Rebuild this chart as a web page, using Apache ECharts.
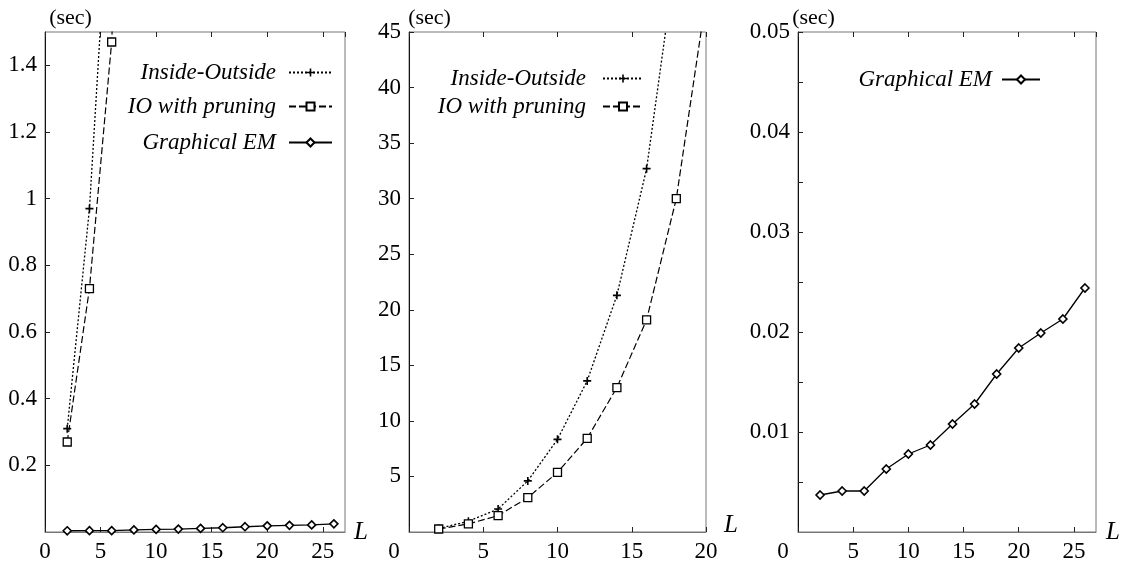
<!DOCTYPE html>
<html>
<head>
<meta charset="utf-8">
<script src="https://cdn.jsdelivr.net/npm/echarts@6/dist/echarts.min.js"></script>
<style>
html,body{margin:0;padding:0;background:#fff;}
#chart{width:1123px;height:565px;}
</style>
</head>
<body>
<div id="chart"></div>
<script>
// ---- data ----
const ioL = [2, 4, 6, 8, 10, 12, 14, 16, 18];
const ioTimes = [0.31, 0.97, 2.07, 4.6, 8.34, 13.6, 21.3, 32.7, 52];
const pruneL = [2, 4, 6, 8, 10, 12, 14, 16, 18, 20];
const pruneTimes = [0.27, 0.73, 1.47, 3.09, 5.37, 8.43, 13.0, 19.1, 30.0, 48];
const gemL = [2, 4, 6, 8, 10, 12, 14, 16, 18, 20, 22, 24, 26];
const gemTimes = [0.0037, 0.0041, 0.0041, 0.0063, 0.0078, 0.0087, 0.0108, 0.0128, 0.0158, 0.0184, 0.0199, 0.0213, 0.0244];
const seriesNames = ['Inside-Outside', 'IO with pruning', 'Graphical EM'];
const yUnit = '(sec)';
const xName = 'L';

const pairs = (xs, ys) => xs.map((x, i) => [x, ys[i]]);

const FONT = "'Liberation Serif', 'Times New Roman', serif";
const plusPath = 'path://M4,0h2v4h4v2h-4v4h-2v-4h-4v-2h4z';

const grids = [
  {left: 45, top: 32, width: 300, height: 500},
  {left: 409, top: 32, width: 297, height: 500},
  {left: 798, top: 32, width: 298, height: 500}
];
const xRanges = [[0, 27], [0, 20], [0, 27]];
const yRanges = [[0, 1.5, 0.2], [0, 45, 5], [0, 0.05, 0.005]];
const zeroShift = [0, 30, 30];
const secPad = [51, 41, 31];
const Lgap = [9, 18, 10];
const Lvalign = ['middle', 'bottom', 'middle'];
const LlineH = [25, 14, 25];

const TICK_FS = 23;
const labelStyle = {color: '#000', fontFamily: FONT, fontSize: TICK_FS};

const xAxes = [];
const yAxes = [];
grids.forEach((g, i) => {
  xAxes.push({
    type: 'value', gridIndex: i, min: xRanges[i][0], max: xRanges[i][1], interval: 5,
    position: 'bottom',
    name: xName, nameLocation: 'end', nameGap: Lgap[i], nameMoveOverlap: false,
    nameTextStyle: {fontFamily: FONT, fontSize: 25, fontStyle: 'italic', color: '#000',
      verticalAlign: Lvalign[i], lineHeight: LlineH[i]},
    axisLine: {show: true, lineStyle: {color: '#777', width: 1}},
    axisTick: {show: true, inside: true, length: 5, lineStyle: {color: '#222'}},
    splitLine: {show: false},
    axisLabel: Object.assign({}, labelStyle, {
      margin: 8, showMaxLabel: xRanges[i][1] % 5 === 0,
      formatter: v => (v === 0 ? '{z|0}' : String(v)),
      rich: {z: {fontFamily: FONT, fontSize: TICK_FS, color: '#000', padding: [0, zeroShift[i], 0, 0]}}
    })
  });
  yAxes.push({
    type: 'value', gridIndex: i, min: yRanges[i][0], max: yRanges[i][1], interval: yRanges[i][2],
    name: yUnit, nameLocation: 'end', nameGap: 3, nameMoveOverlap: false,
    nameTextStyle: {fontFamily: FONT, fontSize: 22, color: '#000', align: 'center',
      padding: [0, 0, 0, secPad[i]]},
    axisLine: {show: true, lineStyle: {color: '#111', width: 1}},
    axisTick: {show: true, inside: true, length: 5, lineStyle: {color: '#222'}},
    splitLine: {show: false},
    axisLabel: Object.assign({}, labelStyle, {
      margin: 8, showMinLabel: false, showMaxLabel: i !== 0,
      formatter: v => {
        if (i === 2) {
          const k = Math.round(v * 1000);
          if (k % 10 !== 0) return '';
          return (k / 1000).toFixed(2);
        }
        if (i === 0) {
          if (Math.abs(v - 1.5) < 1e-9) return '';
          return String(Math.round(v * 10) / 10);
        }
        return String(v);
      }
    })
  });
});
// mirrored ticks on top
grids.forEach((g, i) => {
  xAxes.push({
    type: 'value', gridIndex: i, min: xRanges[i][0], max: xRanges[i][1], interval: 5,
    position: 'top',
    axisLine: {show: false},
    axisTick: {show: true, inside: true, length: 5, lineStyle: {color: '#222'}},
    axisLabel: {show: false},
    splitLine: {show: false}
  });
});

const ioStyle = {
  type: 'line', symbol: plusPath, symbolSize: 8, clip: true,
  lineStyle: {color: '#000', width: 1.3, type: [2, 2]},
  itemStyle: {color: '#000', borderWidth: 0}
};
const pruneStyle = {
  type: 'line', symbol: 'rect', symbolSize: 8, clip: true,
  lineStyle: {color: '#000', width: 1.2, type: [7, 3]},
  itemStyle: {color: '#fff', borderColor: '#000', borderWidth: 1.3}
};
const gemStyle = {
  type: 'line', symbol: 'diamond', symbolSize: 8, clip: true,
  lineStyle: {color: '#000', width: 1.3, type: 'solid'},
  itemStyle: {color: '#fff', borderColor: '#000', borderWidth: 1.6}
};

const series = [
  Object.assign({name: seriesNames[0], xAxisIndex: 0, yAxisIndex: 0, data: pairs(ioL, ioTimes)}, ioStyle),
  Object.assign({name: seriesNames[1], xAxisIndex: 0, yAxisIndex: 0, data: pairs(pruneL, pruneTimes)}, pruneStyle),
  Object.assign({name: seriesNames[2], xAxisIndex: 0, yAxisIndex: 0, data: pairs(gemL, gemTimes)}, gemStyle),
  Object.assign({name: seriesNames[0], xAxisIndex: 1, yAxisIndex: 1, data: pairs(ioL, ioTimes)}, ioStyle),
  Object.assign({name: seriesNames[1], xAxisIndex: 1, yAxisIndex: 1, data: pairs(pruneL, pruneTimes)}, pruneStyle),
  Object.assign({name: seriesNames[2], xAxisIndex: 2, yAxisIndex: 2, data: pairs(gemL, gemTimes)}, gemStyle)
];

function legendEntry(name, right, top, width, gap) {
  return {
    data: [name], right: right, top: top, orient: 'vertical', align: 'right',
    selectedMode: false, itemWidth: width, itemHeight: 10,
    textStyle: {fontFamily: FONT, fontSize: 23, fontStyle: 'italic', color: '#000',
      padding: [0, gap, 0, 0]},
    padding: 0
  };
}

const option = {
  animation: false,
  backgroundColor: '#fff',
  grid: grids.map(g => Object.assign({show: true, borderColor: '#777', borderWidth: 1, backgroundColor: 'transparent'}, g)),
  xAxis: xAxes,
  yAxis: yAxes,
  legend: [
    legendEntry(seriesNames[0], 1123 - 333, 61, 43, 8),
    legendEntry(seriesNames[1], 1123 - 333, 95, 43, 8),
    legendEntry(seriesNames[2], 1123 - 333, 131, 43, 8),
    legendEntry(seriesNames[0], 1123 - 644, 67, 40, 12),
    legendEntry(seriesNames[1], 1123 - 644, 95, 40, 12),
    legendEntry(seriesNames[2], 1123 - 1041, 68, 38, 5)
  ],
  series: series
};

const chart = echarts.init(document.getElementById('chart'), null, {renderer: 'canvas'});
chart.setOption(option);
</script>
</body>
</html>
